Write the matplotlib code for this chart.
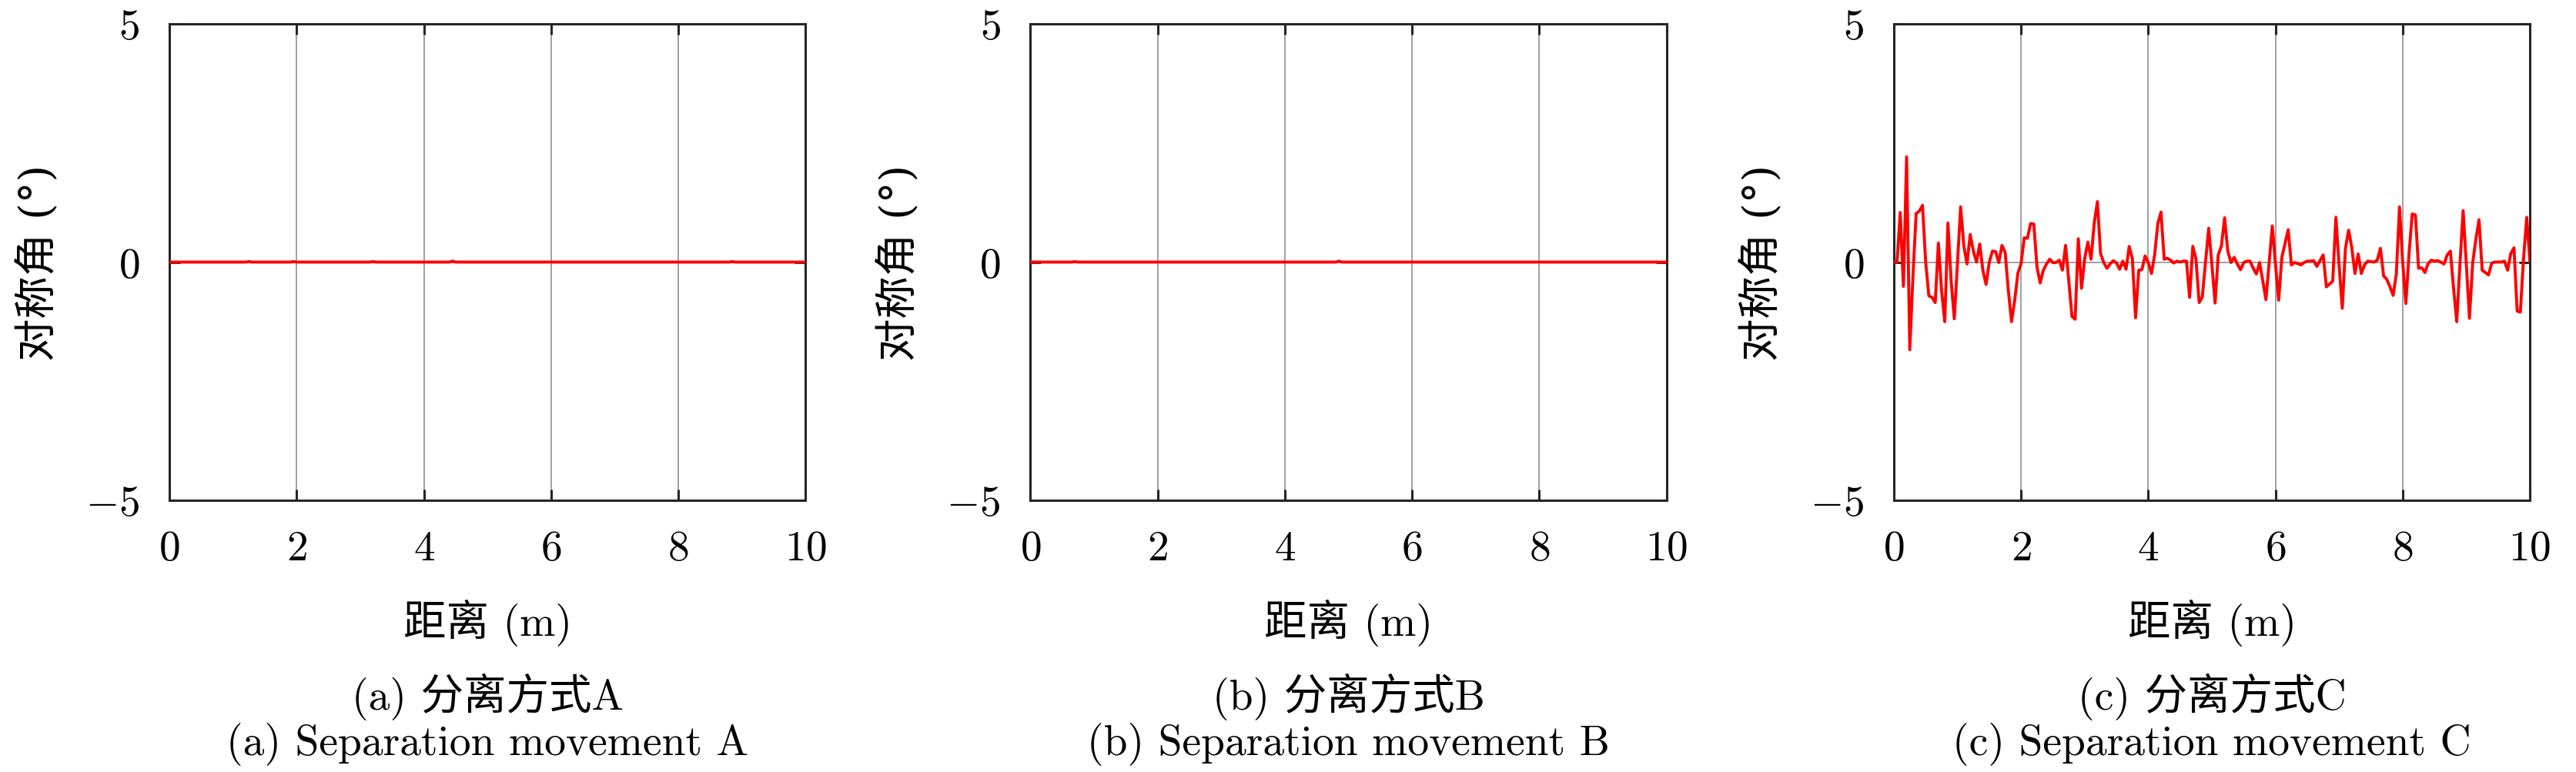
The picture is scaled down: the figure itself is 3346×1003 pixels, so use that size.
import numpy as np
import matplotlib.pyplot as plt

plt.rcParams['mathtext.fontset'] = 'cm'
plt.rcParams['font.family'] = ['cmr10', 'Noto Sans CJK SC']
plt.rcParams['axes.unicode_minus'] = False

# distance samples every 0.05 m
dist = np.round(np.arange(201) * 0.05, 2)

# symmetry angle (deg), separation movement A
sep_a = [
    0.00, 0.00, 0.00, 0.00, 0.00, 0.00, 0.00, 0.00, 0.00, 0.00, 0.00, 0.00, 0.00, 0.00, 0.00, 0.00, 0.00, 0.00, 0.00, 0.00,
    0.00, 0.00, 0.00, 0.00, 0.00, 0.01, 0.00, 0.00, 0.00, 0.00, 0.00, 0.00, 0.00, 0.00, 0.00, 0.00, 0.00, 0.00, 0.00, 0.01,
    0.00, 0.00, 0.00, 0.00, 0.00, 0.00, 0.00, 0.00, 0.00, 0.00, 0.00, 0.00, 0.00, 0.00, 0.00, 0.00, 0.00, 0.00, 0.00, 0.00,
    0.00, 0.00, 0.00, 0.00, 0.01, 0.00, 0.00, 0.00, 0.00, 0.00, 0.00, 0.00, 0.00, 0.00, 0.00, 0.00, 0.00, 0.00, 0.00, 0.00,
    0.00, 0.00, 0.00, 0.00, 0.00, 0.00, 0.00, 0.00, 0.00, 0.02, 0.00, 0.00, 0.00, 0.00, 0.00, 0.00, 0.00, 0.00, 0.00, 0.00,
    0.00, 0.00, 0.00, 0.00, 0.00, 0.00, 0.00, 0.00, 0.00, 0.00, 0.00, 0.00, 0.00, 0.00, 0.00, 0.00, 0.00, 0.00, 0.00, 0.00,
    0.00, 0.00, 0.00, 0.00, 0.00, 0.00, 0.00, 0.00, 0.00, 0.00, 0.00, 0.00, 0.00, 0.00, 0.00, 0.00, 0.00, 0.00, 0.00, 0.00,
    0.00, 0.00, 0.00, 0.00, 0.00, 0.00, 0.00, 0.00, 0.00, 0.00, 0.00, 0.00, 0.00, 0.00, 0.00, 0.00, 0.00, 0.00, 0.00, 0.00,
    0.00, 0.00, 0.00, 0.00, 0.00, 0.00, 0.00, 0.00, 0.00, 0.00, 0.00, 0.00, 0.00, 0.00, 0.00, 0.00, 0.00, 0.01, 0.00, 0.00,
    0.00, 0.00, 0.00, 0.00, 0.00, 0.00, 0.00, 0.00, 0.00, 0.00, 0.00, 0.00, 0.00, 0.00, 0.00, 0.00, 0.00, 0.00, 0.00, 0.00,
    0.00,
]

# separation movement B
sep_b = [
    0.00, 0.00, 0.00, 0.00, 0.00, 0.00, 0.00, 0.00, 0.00, 0.00, 0.00, 0.00, 0.00, 0.00, 0.01, 0.00, 0.00, 0.00, 0.00, 0.00,
    0.00, 0.00, 0.00, 0.00, 0.00, 0.00, 0.00, 0.00, 0.00, 0.00, 0.00, 0.00, 0.00, 0.00, 0.00, 0.00, 0.00, 0.00, 0.00, 0.00,
    0.00, 0.00, 0.00, 0.00, 0.00, 0.00, 0.00, 0.00, 0.00, 0.00, 0.00, 0.00, 0.00, 0.00, 0.00, 0.00, 0.00, 0.00, 0.00, 0.00,
    0.00, 0.00, 0.00, 0.00, 0.00, 0.00, 0.00, 0.00, 0.00, 0.00, 0.00, 0.00, 0.00, 0.00, 0.00, 0.00, 0.00, 0.00, 0.00, 0.00,
    0.00, 0.00, 0.00, 0.00, 0.00, 0.00, 0.00, 0.00, 0.00, 0.00, 0.00, 0.00, 0.00, 0.00, 0.00, 0.00, 0.00, 0.02, 0.00, 0.00,
    0.00, 0.00, 0.00, 0.00, 0.00, 0.00, 0.00, 0.00, 0.00, 0.00, 0.00, 0.00, 0.00, 0.00, 0.00, 0.00, 0.00, 0.00, 0.00, 0.00,
    0.00, 0.00, 0.00, 0.00, 0.00, 0.00, 0.00, 0.00, 0.00, 0.00, 0.00, 0.00, 0.00, 0.00, 0.00, 0.00, 0.00, 0.00, 0.00, 0.00,
    0.00, 0.00, 0.00, 0.00, 0.00, 0.00, 0.00, 0.00, 0.00, 0.00, 0.00, 0.00, 0.00, 0.00, 0.00, 0.00, 0.00, 0.00, 0.00, 0.00,
    0.00, 0.00, 0.00, 0.00, 0.00, 0.00, 0.00, 0.00, 0.00, 0.00, 0.00, 0.00, 0.00, 0.00, 0.00, 0.00, 0.00, 0.00, 0.00, 0.00,
    0.00, 0.00, 0.00, 0.00, 0.00, 0.00, 0.00, 0.00, 0.00, 0.00, 0.00, 0.00, 0.00, 0.00, 0.00, 0.00, 0.00, 0.00, 0.00, 0.00,
    0.00,
]

# separation movement C
sep_c = [
    0.00, 0.00, 1.04, -0.51, 2.21, -1.84, -0.30, 1.02, 1.07, 1.19, 0.00, -0.71, -0.74, -0.85, 0.40, -0.60, -1.25, 0.82, -0.39, -1.19,
    0.00, 1.16, 0.34, -0.04, 0.58, 0.23, 0.00, 0.38, -0.18, -0.47, 0.00, 0.23, 0.22, -0.01, 0.35, 0.20, -0.60, -1.25, -0.80, -0.23,
    -0.03, 0.51, 0.50, 0.81, 0.80, -0.10, -0.44, -0.17, -0.04, 0.06, -0.01, -0.01, 0.04, -0.17, 0.35, -0.40, -1.14, -1.20, 0.49, -0.55,
    0.07, 0.42, 0.06, 0.82, 1.27, 0.18, -0.01, -0.13, -0.04, 0.03, -0.02, -0.15, 0.02, -0.15, 0.33, 0.07, -1.17, -0.17, -0.16, 0.13,
    -0.01, -0.24, 0.15, 0.81, 1.05, 0.06, 0.08, 0.04, -0.02, 0.02, 0.00, 0.02, 0.02, -0.74, 0.33, 0.06, -0.85, -0.73, 0.00, 0.71,
    -0.04, -0.86, 0.15, 0.34, 0.93, 0.23, -0.01, 0.10, -0.04, -0.16, -0.01, 0.02, 0.02, -0.13, -0.25, -0.01, -0.39, -0.79, -0.01, 0.76,
    -0.04, -0.80, 0.10, 0.39, 0.68, -0.06, -0.01, -0.03, -0.06, -0.01, 0.02, 0.02, 0.03, -0.09, 0.03, 0.15, -0.52, -0.46, -0.40, 0.94,
    -0.06, -0.97, 0.29, 0.67, 0.30, -0.24, 0.17, -0.24, -0.06, 0.02, 0.01, 0.00, 0.04, 0.29, -0.29, -0.36, -0.52, -0.70, -0.25, 1.16,
    0.00, -0.87, 0.18, 1.01, 0.99, -0.13, -0.12, -0.22, -0.03, 0.04, 0.02, 0.03, 0.00, -0.04, 0.15, 0.23, -0.55, -1.25, -0.05, 1.08,
    -0.03, -1.18, -0.03, 0.47, 0.89, -0.17, -0.22, -0.27, -0.02, 0.00, 0.00, 0.00, 0.02, -0.17, 0.18, 0.30, -1.03, -1.05, 0.07, 0.94,
    0.02,
]

series = [sep_a, sep_b, sep_c]
captions_cn = ['(a) 分离方式A', '(b) 分离方式B', '(c) 分离方式C']
captions_en = ['(a) Separation movement A', '(b) Separation movement B', '(c) Separation movement C']
xticks = [0, 2, 4, 6, 8, 10]
yticks = [-5, 0, 5]

fig = plt.figure(figsize=(16.73, 5.02), dpi=200)
lefts = [0.0658, 0.4000, 0.7352]
w, h, b = 0.2469, 0.6165, 0.3516

for left, vals, cn, en in zip(lefts, series, captions_cn, captions_en):
    ax = fig.add_axes([left, b, w, h])
    ax.plot(dist, vals, color='#ff0000', lw=1.4, zorder=3)
    ax.set_xlim(0, 10)
    ax.set_ylim(-5, 5)
    ax.set_xticks(xticks, labels=[f'${v}$' for v in xticks])
    ax.set_yticks(yticks, labels=[f'${v}$' for v in yticks])
    ax.tick_params(direction='in', top=True, right=True, length=5, width=1.1,
                   labelsize=20, pad=14, color='#262626')
    ax.grid(True, color='#a0a0a0', lw=0.7)
    for s in ax.spines.values():
        s.set_linewidth(1.1)
        s.set_color('#262626')
    ax.set_xlabel('距离 (m)', fontsize=20, labelpad=14)
    # cmr10 has no degree sign, so this label uses DejaVu Serif + CJK fallback
    ax.set_ylabel('对称角 (°)', fontsize=20, labelpad=12,
                  family=['DejaVu Serif', 'Noto Sans CJK SC'])
    cx = left + w / 2
    fig.text(cx, 1 - 905 / 1004, cn, ha='center', va='center', fontsize=20)
    fig.text(cx, 1 - 967 / 1004, en, ha='center', va='center', fontsize=20)

fig.savefig('out.png', dpi=200)
